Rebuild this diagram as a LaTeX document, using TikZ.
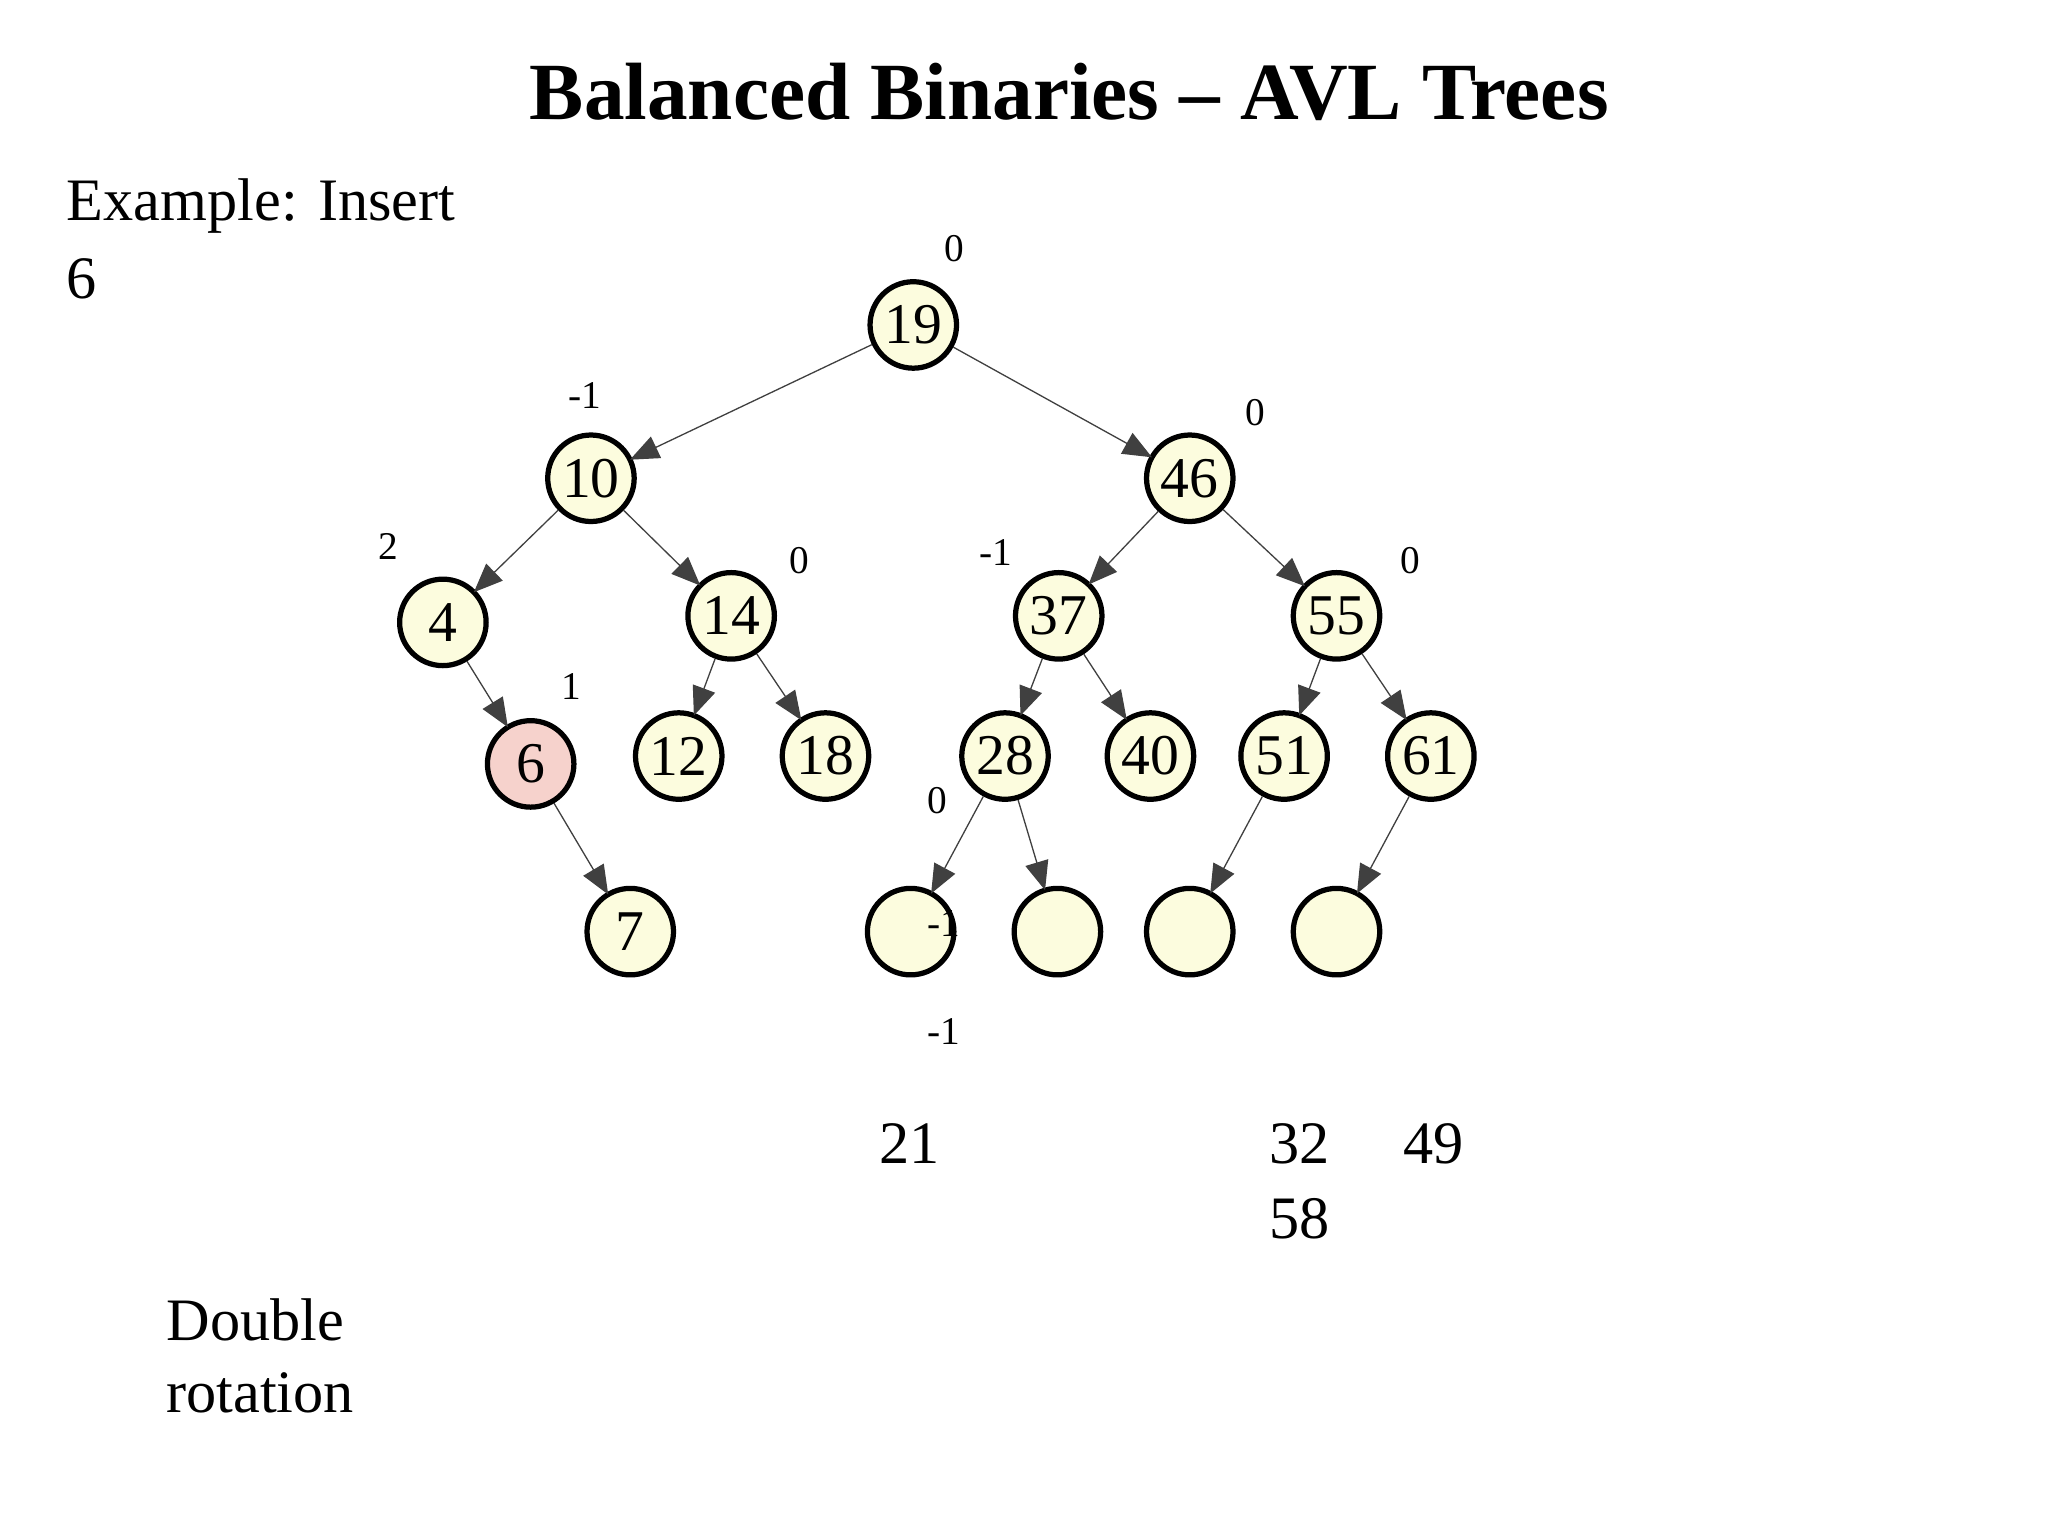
\documentclass[tikz,border=0pt]{standalone}
\usepackage{fontspec}
\setmainfont{Liberation Serif}
\usetikzlibrary{arrows.meta}
\definecolor{nfill}{HTML}{FCFCDE}
\definecolor{pfill}{HTML}{F6D2CC}
\begin{document}
\begin{tikzpicture}[x=0.5pt,y=-0.5pt,
 tn/.style={circle,draw=black,line width=2pt,fill=nfill,minimum size=33pt,inner sep=0pt,font=\fontsize{22}{22}\selectfont},
 bal/.style={font=\fontsize{15}{15}\selectfont},
 txt/.style={font=\fontsize{23}{27}\selectfont,anchor=west},
 ed/.style={draw=black!75,line width=0.5pt,-{Triangle[length=11pt,width=9pt]},shorten >=-1pt}]
\useasboundingbox (0,0) rectangle (1563,1171.5);
\node[font=\bfseries\fontsize{31}{31}\selectfont] (title) at (816,70) {Balanced Binaries – AVL Trees};
\node[txt] (ex) at (44,157) {Example: Insert};
\node[txt] (ex6) at (44,213) {6};
\node[txt] (d1) at (120,1007) {Double};
\node[txt] (d2) at (120,1063) {rotation};
\node[tn] (n19) at (697,248) {19};
\node[tn] (n10) at (451,365) {10};
\node[tn] (n46) at (908,365) {46};
\node[tn] (n4) at (338,475) {4};
\node[tn] (n14) at (558,470) {14};
\node[tn] (n37) at (808,470) {37};
\node[tn] (n55) at (1020,470) {55};
\node[tn,fill=pfill] (n6) at (405,583) {6};
\node[tn] (n12) at (518,577) {12};
\node[tn] (n18) at (630,577) {18};
\node[tn] (n28) at (767,577) {28};
\node[tn] (n40) at (878,577) {40};
\node[tn] (n51) at (980,577) {51};
\node[tn] (n61) at (1092,577) {61};
\node[tn] (n7) at (481,711) {7};
\node[tn] (e1) at (695,711) {};
\node[tn] (e2) at (807,711) {};
\node[tn] (e3) at (908,711) {};
\node[tn] (e4) at (1020,711) {};
\foreach \a/\b in {n19/n10,n19/n46,n10/n4,n10/n14,n46/n37,n46/n55,n4/n6,n6/n7,n14/n12,n14/n18,n37/n28,n37/n40,n55/n51,n55/n61,n28/e1,n28/e2,n51/e3,n61/e4}
  \draw[ed] (\a) -- (\b);
\node[bal] (b1) at (728,190) {0};
\node[bal] (b2) at (446,302) {-1};
\node[bal] (b3) at (958,315) {0};
\node[bal] (b4) at (296,417) {2};
\node[bal] (b5) at (610,428) {0};
\node[bal] (b6) at (760,422) {-1};
\node[bal] (b7) at (1076,428) {0};
\node[bal] (b8) at (436,524) {1};
\node[bal] (b9) at (715,611) {0};
\node[bal] (b10) at (720,705) {-1};
\node[bal] (b11) at (720,787) {-1};
\node[font=\fontsize{23}{23}\selectfont] (t21) at (694,873) {21};
\node[font=\fontsize{23}{23}\selectfont] (t32) at (992,873) {32};
\node[font=\fontsize{23}{23}\selectfont] (t49) at (1094,873) {49};
\node[font=\fontsize{23}{23}\selectfont] (t58) at (992,930) {58};
\end{tikzpicture}
\end{document}
